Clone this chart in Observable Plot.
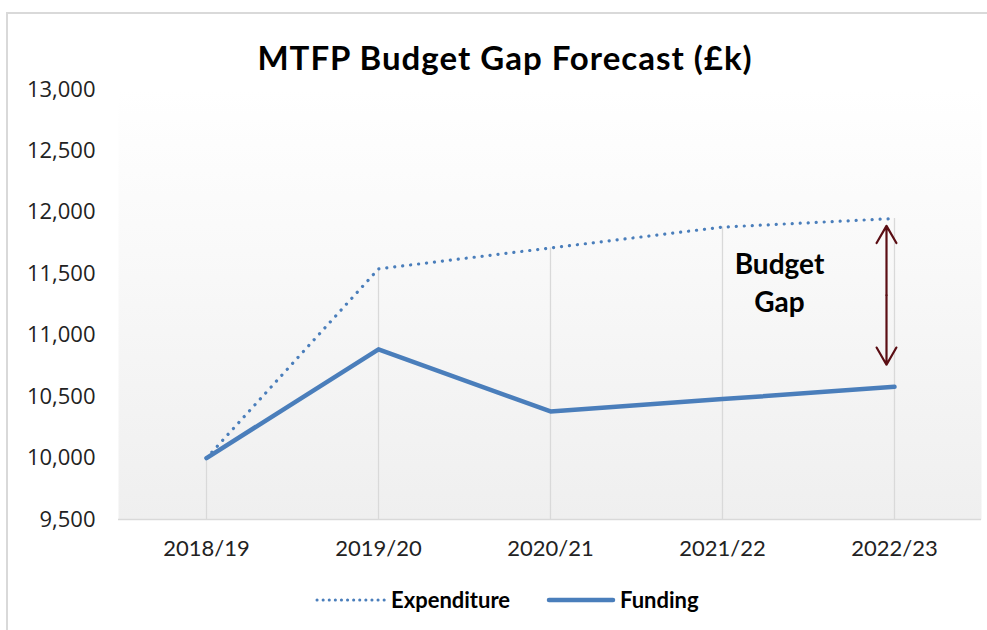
<!DOCTYPE html>
<html>
<head>
<meta charset="utf-8">
<script src="https://cdn.jsdelivr.net/npm/d3@7"></script>
<script src="https://cdn.jsdelivr.net/npm/@observablehq/plot@0.6"></script>
<style>
  html, body { margin: 0; padding: 0; background: #fff; overflow: hidden; }
  #wrap { position: relative; width: 987px; height: 630px; overflow: hidden; }
  #frame { position: absolute; left: 6px; top: 12px; width: 1000px; height: 700px; border: 2px solid #d9d9d9; box-sizing: border-box; }
  #title { position: absolute; left: 0; top: 37px; width: 1010px; text-align: center; font-family: Lato, sans-serif; font-weight: 700; font-size: 33px; letter-spacing: 1px; color: #000; }
  #chart { position: absolute; left: 0; top: 0; }
  #legend { position: absolute; left: 0; top: 585px; width: 987px; height: 30px; font-family: Lato, sans-serif; font-weight: 700; font-size: 22px; color: #000; }
  #legend span { position: absolute; top: 1px; }
  #legend svg { position: absolute; top: 0; }
</style>
</head>
<body>
<div id="wrap">
  <div id="frame"></div>
  <div id="chart"></div>
  <div id="title">MTFP Budget Gap Forecast (£k)</div>
  <div id="legend"></div>
</div>
<script>
const years = ["2018/19", "2019/20", "2020/21", "2021/22", "2022/23"];
const expenditure = [10000, 11540, 11710, 11880, 11950];
const funding = [10000, 10885, 10380, 10480, 10580];
const yTicks = [9500, 10000, 10500, 11000, 11500, 12000, 12500, 13000];
const seriesNames = ["Expenditure", "Funding"];
const gapLabel = ["Budget\nGap"];
const gapLabelPos = ["2021/22", 11440];
const gapArrow = ["2022/23", 11890, 10760];

const blue = "#4a7ebb";
const rows = years.map((y, i) => ({year: y, exp: expenditure[i], fund: funding[i]}));
const gapMid = (gapArrow[1] + gapArrow[2]) / 2;

const gradient = () => {
  const g = d3.create("svg:defs");
  const lg = g.append("linearGradient").attr("id", "plotbg").attr("x1", 0).attr("y1", 0).attr("x2", 0).attr("y2", 1);
  lg.append("stop").attr("offset", "0%").attr("stop-color", "#ffffff");
  lg.append("stop").attr("offset", "100%").attr("stop-color", "#efefef");
  return g.node();
};

const chart = Plot.plot({
  width: 987,
  height: 630,
  marginLeft: 118,
  marginRight: 6,
  marginTop: 89,
  marginBottom: 111,
  style: {background: "transparent", overflow: "visible"},
  x: {type: "point", domain: years, padding: 0.5, label: null},
  y: {domain: [9500, 13000], ticks: yTicks, label: null},
  marks: [
    gradient,
    Plot.frame({fill: "url(#plotbg)", stroke: null}),
    Plot.ruleX(rows, {x: "year", y1: 9500, y2: d => Math.max(d.exp, d.fund), stroke: "#d9d9d9", strokeWidth: 1.3}),
    Plot.ruleY([9500], {stroke: "#d9d9d9", strokeWidth: 1.5}),
    Plot.axisY({ticks: yTicks, tickFormat: d3.format(","), tickSize: 0, tickPadding: 23, fontSize: 22, fontFamily: "'Open Sans', sans-serif", fill: "#222", label: null}),
    Plot.axisX({tickSize: 0, tickPadding: 21, fontSize: 22, fontFamily: "Lato, sans-serif", fill: "#222", label: null}),
    Plot.line(rows, {x: "year", y: "exp", stroke: blue, strokeWidth: 3.2, strokeDasharray: "0.1 7.9", strokeLinecap: "round"}),
    Plot.line(rows, {x: "year", y: "fund", stroke: blue, strokeWidth: 4.5, strokeLinejoin: "round", strokeLinecap: "round"}),
    Plot.arrow([{y1: gapMid, y2: gapArrow[1]}, {y1: gapMid, y2: gapArrow[2]}], {x1: () => gapArrow[0], x2: () => gapArrow[0], y1: "y1", y2: "y2", dx: -8, stroke: "#5b0e14", strokeWidth: 2.2, headLength: 13.5, headAngle: 60}),
    Plot.text(gapLabel, {x: () => gapLabelPos[0], y: () => gapLabelPos[1], text: d => d, dx: 57, fontSize: 28, fontWeight: "bold", fontFamily: "Lato, sans-serif", lineHeight: 1.35, fill: "#000"})
  ]
});
document.getElementById("chart").appendChild(chart);

// legend
const legend = document.getElementById("legend");
const mk = (html) => { const t = document.createElement("template"); t.innerHTML = html.trim(); return t.content.firstChild; };
legend.appendChild(mk(`<svg style="left:314px" width="74" height="30"><line x1="3" x2="71" y1="15" y2="15" stroke="${blue}" stroke-width="3" stroke-dasharray="0.1 6" stroke-linecap="round"/></svg>`));
const s1 = document.createElement("span"); s1.style.left = "391px"; s1.textContent = seriesNames[0]; legend.appendChild(s1);
legend.appendChild(mk(`<svg style="left:545px" width="72" height="30"><line x1="4" x2="68" y1="15" y2="15" stroke="${blue}" stroke-width="4.5" stroke-linecap="round"/></svg>`));
const s2 = document.createElement("span"); s2.style.left = "620px"; s2.textContent = seriesNames[1]; legend.appendChild(s2);
</script>
</body>
</html>
